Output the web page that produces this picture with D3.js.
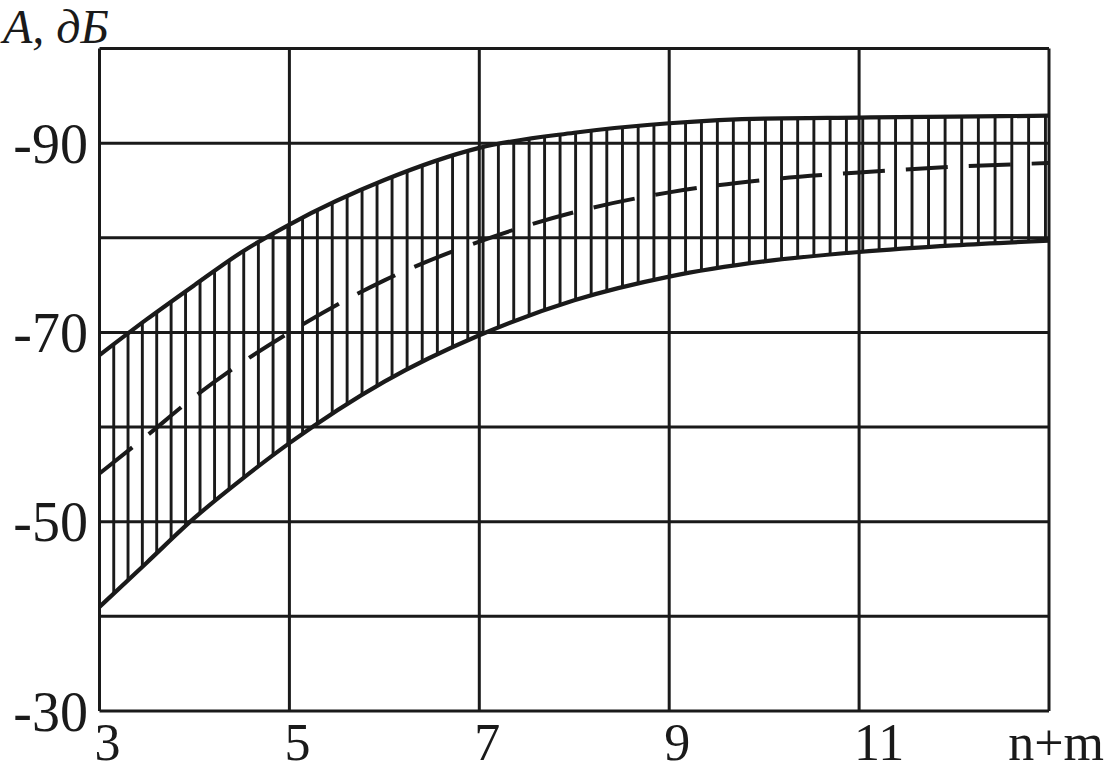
<!DOCTYPE html>
<html>
<head>
<meta charset="utf-8">
<script src="https://cdn.jsdelivr.net/npm/d3@7"></script>
<style>
  html, body { margin: 0; padding: 0; background: #fff; }
  svg { display: block; }
  text { font-family: "Liberation Serif", "DejaVu Serif", serif; fill: #1a1a1a; }
</style>
</head>
<body>
<svg id="chart" width="1109" height="773"></svg>
<script>
// ---- data ----
const xValues   = [3, 3.5, 4, 4.5, 5, 6, 7, 8, 9, 10, 11, 12, 13];
const upperVals = [-67.6, -71.4, -75.0, -78.5, -81.4, -86.1, -89.5, -91.1, -92.1, -92.6, -92.7, -92.8, -92.9];
const lowerVals = [-41.0, -45.7, -50.4, -54.5, -58.3, -64.8, -69.7, -73.4, -75.9, -77.5, -78.5, -79.2, -79.7];
const meanVals  = [-55.1, -59.1, -63.2, -66.8, -70.0, -75.5, -79.6, -82.7, -84.8, -86.1, -86.9, -87.5, -87.9];
const xTicks = [3, 5, 7, 9, 11];
const xGrid  = [3, 5, 7, 9, 11, 13];
const yTickLabels = [-30, -50, -70, -90];
const yGrid = [-30, -40, -50, -60, -70, -80, -90, -100];
const yTitle = "A, дБ";
const xTitle = "n+m";

// ---- layout ----
const svg = d3.select("#chart");
const ink = "#1a1a1a";
const x = d3.scaleLinear().domain([3, 13]).range([99.5, 1049]);
const y = d3.scaleLinear().domain([-30, -100]).range([711, 48.5]);

const pts = (vals) => xValues.map((v, i) => [v, vals[i]]);
const curve = d3.curveMonotoneX;
const line = d3.line().x(d => x(d[0])).y(d => y(d[1])).curve(curve);

// grid
const g = svg.append("g");
g.selectAll("line.gx").data(xGrid).join("line")
  .attr("x1", d => x(d)).attr("x2", d => x(d))
  .attr("y1", y(-30)).attr("y2", y(-100))
  .attr("stroke", ink).attr("stroke-width", 3);
g.selectAll("line.gy").data(yGrid).join("line")
  .attr("x1", x(3)).attr("x2", x(13))
  .attr("y1", d => y(d)).attr("y2", d => y(d))
  .attr("stroke", ink).attr("stroke-width", 3);

// hatch region clip
const area = d3.area()
  .x((d, i) => x(xValues[i]))
  .y0((d, i) => y(lowerVals[i]))
  .y1((d, i) => y(upperVals[i]))
  .curve(curve);
svg.append("clipPath").attr("id", "band")
  .append("path").attr("d", area(xValues));

// hatch positions (decorative spacing, widening slightly to the right)
const hatchX = [];
for (let v = 3 + 0.15; v < 13; v += 0.15 + 0.028 * (v - 3) / 10) hatchX.push(v);

svg.append("g").attr("clip-path", "url(#band)")
  .selectAll("line").data(hatchX).join("line")
  .attr("x1", d => x(d)).attr("x2", d => x(d))
  .attr("y1", y(-30)).attr("y2", y(-100))
  .attr("stroke", ink).attr("stroke-width", 2.9);

// curves
svg.append("path").attr("d", line(pts(upperVals)))
  .attr("fill", "none").attr("stroke", ink).attr("stroke-width", 4.2);
svg.append("path").attr("d", line(pts(lowerVals)))
  .attr("fill", "none").attr("stroke", ink).attr("stroke-width", 4.2);
svg.append("path").attr("d", line(pts(meanVals)))
  .attr("fill", "none").attr("stroke", ink).attr("stroke-width", 4)
  .attr("stroke-dasharray", "42,21");

// y tick labels
svg.selectAll("text.yt").data(yTickLabels).join("text")
  .attr("x", 88).attr("y", d => y(d)).attr("dy", "0.35em")
  .attr("text-anchor", "end").attr("font-size", 56)
  .text(d => d);

// x tick labels
svg.selectAll("text.xt").data(xTicks).join("text")
  .attr("x", d => x(d) - 5).attr("y", 760)
  .attr("text-anchor", "start").attr("font-size", 52)
  .text(d => d);

svg.append("text").attr("x", 1104).attr("y", 760)
  .attr("text-anchor", "end").attr("font-size", 52).text(xTitle);

svg.append("text").attr("x", 3).attr("y", 43)
  .attr("font-size", 48).attr("font-style", "italic").text(yTitle);
</script>
</body>
</html>
